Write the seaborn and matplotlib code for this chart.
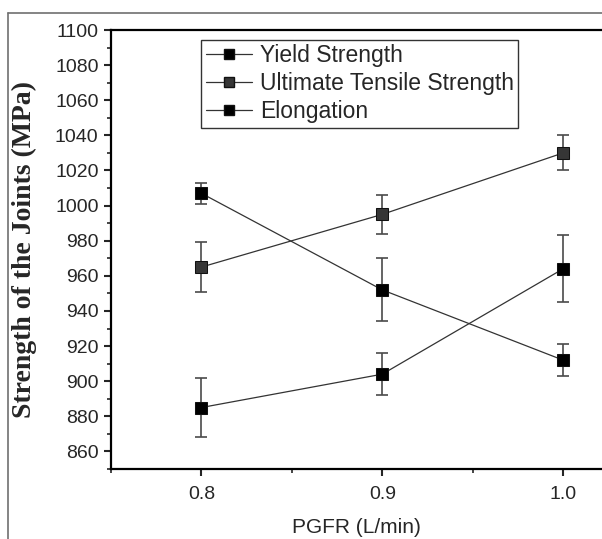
"""Strength of the joints versus PGFR, with error bars."""

import matplotlib.pyplot as plt
import numpy as np
import pandas as pd
import seaborn as sns
from matplotlib.lines import Line2D
from matplotlib.ticker import MultipleLocator

# PGFR levels (L/min)
pgfr = [0.8, 0.9, 1.0]

series_names = ["Yield Strength", "Ultimate Tensile Strength", "Elongation"]

yield_strength = [885, 904, 964]
yield_err = [17, 12, 19]

uts = [965, 995, 1030]
uts_err = [14, 11, 10]

elongation = [1007, 952, 912]
elongation_err = [6, 18, 9]

y_ticks = list(range(860, 1101, 20))
x_ticks = [0.8, 0.9, 1.0]

colors = {
    "Yield Strength": "#000000",
    "Ultimate Tensile Strength": "#363636",
    "Elongation": "#000000",
}

df = pd.DataFrame({
    "pgfr": pgfr * 3,
    "strength": yield_strength + uts + elongation,
    "err": yield_err + uts_err + elongation_err,
    "series": np.repeat(series_names, len(pgfr)),
})

sns.set_style("ticks")
plt.rcParams["font.family"] = ["Liberation Sans", "DejaVu Sans"]

fig = plt.figure(figsize=(6.02, 5.39), dpi=100)
ax = fig.add_axes([0.1844, 0.1299, 0.8156, 0.8144])

# error bars first so the markers sit on top
for name in series_names:
    sub = df[df["series"] == name]
    ax.errorbar(sub["pgfr"], sub["strength"], yerr=sub["err"], fmt="none",
                ecolor="#4a4a4a", elinewidth=1.2, capsize=4, capthick=1.2, zorder=2)

sns.lineplot(data=df, x="pgfr", y="strength", hue="series", hue_order=series_names,
             palette=colors, marker="s", markersize=8.5, markeredgecolor="#111111",
             linewidth=0.9, ax=ax, zorder=3)

# lines are thin grey in the original, markers solid
data_lines = [l for l in ax.get_lines() if l.get_marker() == "s"]
for line, name in zip(data_lines, series_names):
    line.set_color("#333333")
    line.set_markerfacecolor(colors[name])

ax.set_xlim(0.75, 1.0215)
ax.set_ylim(850, 1100)
ax.set_xticks(x_ticks)
ax.set_xticklabels([f"{v:.1f}" for v in x_ticks])
ax.set_yticks(y_ticks)
ax.xaxis.set_minor_locator(MultipleLocator(0.05))
ax.yaxis.set_minor_locator(MultipleLocator(10))
ax.tick_params(which="major", direction="out", length=5, width=1.5, labelsize=14, pad=4)
ax.tick_params(axis="x", which="major", pad=7)
ax.tick_params(which="minor", direction="out", length=3, width=1.2)

for side in ["left", "bottom", "top"]:
    ax.spines[side].set_linewidth(1.6)
    ax.spines[side].set_color("#000000")
ax.spines["right"].set_visible(False)

ax.set_xlabel("PGFR (L/min)", fontsize=15, labelpad=11)
ax.set_ylabel("Strength of the Joints (MPa)", fontsize=20, fontweight="bold",
              family=["Liberation Serif", "DejaVu Serif"], labelpad=13)

handles = [
    Line2D([], [], color="#333333", lw=0.9, marker="s", markersize=7,
           markerfacecolor=colors[n], markeredgecolor="#111111")
    for n in series_names
]
leg = ax.legend(handles, series_names, loc="upper left", bbox_to_anchor=(0.184, 0.978),
                fontsize=16.5, frameon=True, fancybox=False, handlelength=2.0,
                handletextpad=0.35, borderpad=0.2, labelspacing=0.22, borderaxespad=0)
leg.get_frame().set_edgecolor("#000000")
leg.get_frame().set_linewidth(1.0)

# outer frame of the original figure (top and left edges)
fig.add_artist(Line2D([8 / 602, 1.0], [1 - 13 / 539, 1 - 13 / 539],
                      transform=fig.transFigure, color="#707070", lw=1.2))
fig.add_artist(Line2D([8 / 602, 8 / 602], [0.0, 1 - 13 / 539],
                      transform=fig.transFigure, color="#707070", lw=1.2))

fig.savefig("out.png", dpi=100)
